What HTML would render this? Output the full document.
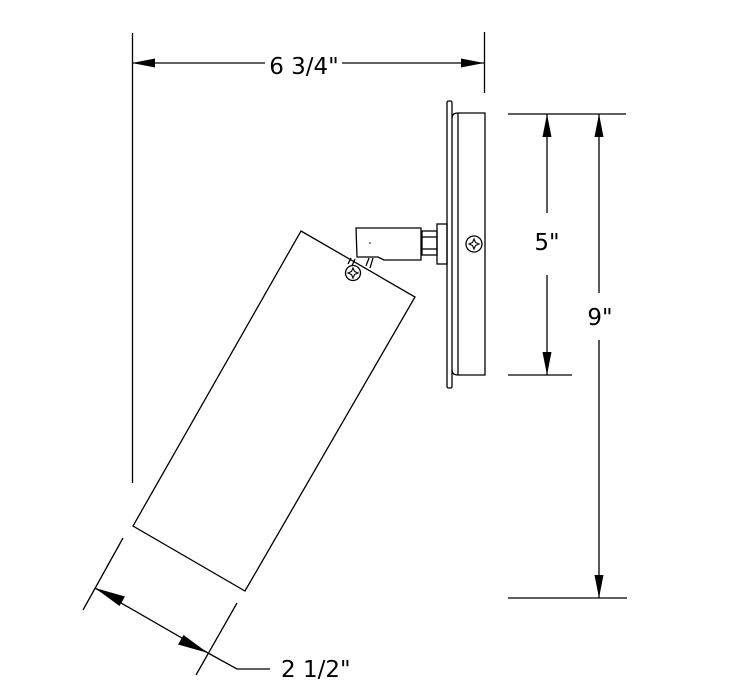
<!DOCTYPE html>
<html><head><style>
html,body{margin:0;padding:0;background:#fff;}
svg{display:block;}
text{font-family:"DejaVu Sans","Liberation Sans",sans-serif;fill:#000;}
</style></head><body>
<svg width="741" height="700" viewBox="0 0 741 700" xmlns="http://www.w3.org/2000/svg">
<g stroke="#000" stroke-width="1.3" fill="none">
<line x1="132.5" y1="33" x2="132.5" y2="483"/>
<line x1="484.5" y1="32" x2="484.5" y2="93"/>
<line x1="132" y1="63" x2="265" y2="63"/>
<line x1="342" y1="63" x2="484" y2="63"/>
<line x1="508" y1="114" x2="626" y2="114"/>
<line x1="508" y1="375" x2="572" y2="375"/>
<line x1="508" y1="598" x2="627" y2="598"/>
<line x1="547" y1="114" x2="547" y2="213"/>
<line x1="547" y1="275" x2="547" y2="375"/>
<line x1="599" y1="114" x2="599" y2="293"/>
<line x1="599" y1="340" x2="599" y2="598"/>
<rect x="447" y="101" width="5" height="287" rx="1.5"/>
<path d="M452,118 Q452,113 458,113 L485,113 L485,375 L458,375 Q452,375 452,370"/>
<line x1="458" y1="113" x2="458" y2="375"/>
<circle cx="474" cy="244" r="8"/>
<rect x="437" y="224" width="10" height="40"/>
<rect x="422" y="231" width="15" height="24"/>
<line x1="422" y1="237" x2="437" y2="237"/>
<line x1="422" y1="249" x2="437" y2="249"/>
<path d="M356,228 L421,228 L421,260 L384,260 L378,257 L357,257 Z"/>
<line x1="351" y1="258" x2="348" y2="264"/>
<line x1="355" y1="259" x2="352" y2="266"/>
<line x1="369" y1="258" x2="366" y2="266"/>
<line x1="373" y1="258" x2="370" y2="268"/>
<polygon points="301,231 415,297 245,591 133,526"/>
<circle cx="353" cy="273" r="7.5"/>
<line x1="123" y1="538" x2="83" y2="610"/>
<line x1="237" y1="603" x2="196" y2="675"/>
<line x1="95" y1="588" x2="208" y2="653"/>
<polyline points="208,653 237,669 270,669"/>
</g>
<g fill="#000">
<path d="M474,239 l1.5,3.5 3.5,1.5 -3.5,1.5 -1.5,3.5 -1.5,-3.5 -3.5,-1.5 3.5,-1.5z" fill="none" stroke="#000" stroke-width="1.1"/>
<path d="M353,268 l1.5,3.5 3.5,1.5 -3.5,1.5 -1.5,3.5 -1.5,-3.5 -3.5,-1.5 3.5,-1.5z" fill="none" stroke="#000" stroke-width="1.1"/>
<circle cx="370" cy="243" r="0.8"/>
<polygon points="132,63 155,58.5 155,67.5"/>
<polygon points="484,63 461,58.5 461,67.5"/>
<polygon points="547,114 542.5,137 551.5,137"/>
<polygon points="547,375 542.5,352 551.5,352"/>
<polygon points="599,114 594.5,137 603.5,137"/>
<polygon points="599,598 594.5,575 603.5,575"/>
<polygon points="95,588 125,596.5 119.5,606"/>
<polygon points="208,653 178,644.5 183.5,635"/>
</g>
<text x="304" y="74" font-size="23" text-anchor="middle">6 3/4"</text>
<text x="547" y="250" font-size="23" text-anchor="middle">5"</text>
<text x="600" y="325" font-size="23" text-anchor="middle">9"</text>
<text x="281" y="677" font-size="23">2 1/2"</text>
</svg>
</body></html>
